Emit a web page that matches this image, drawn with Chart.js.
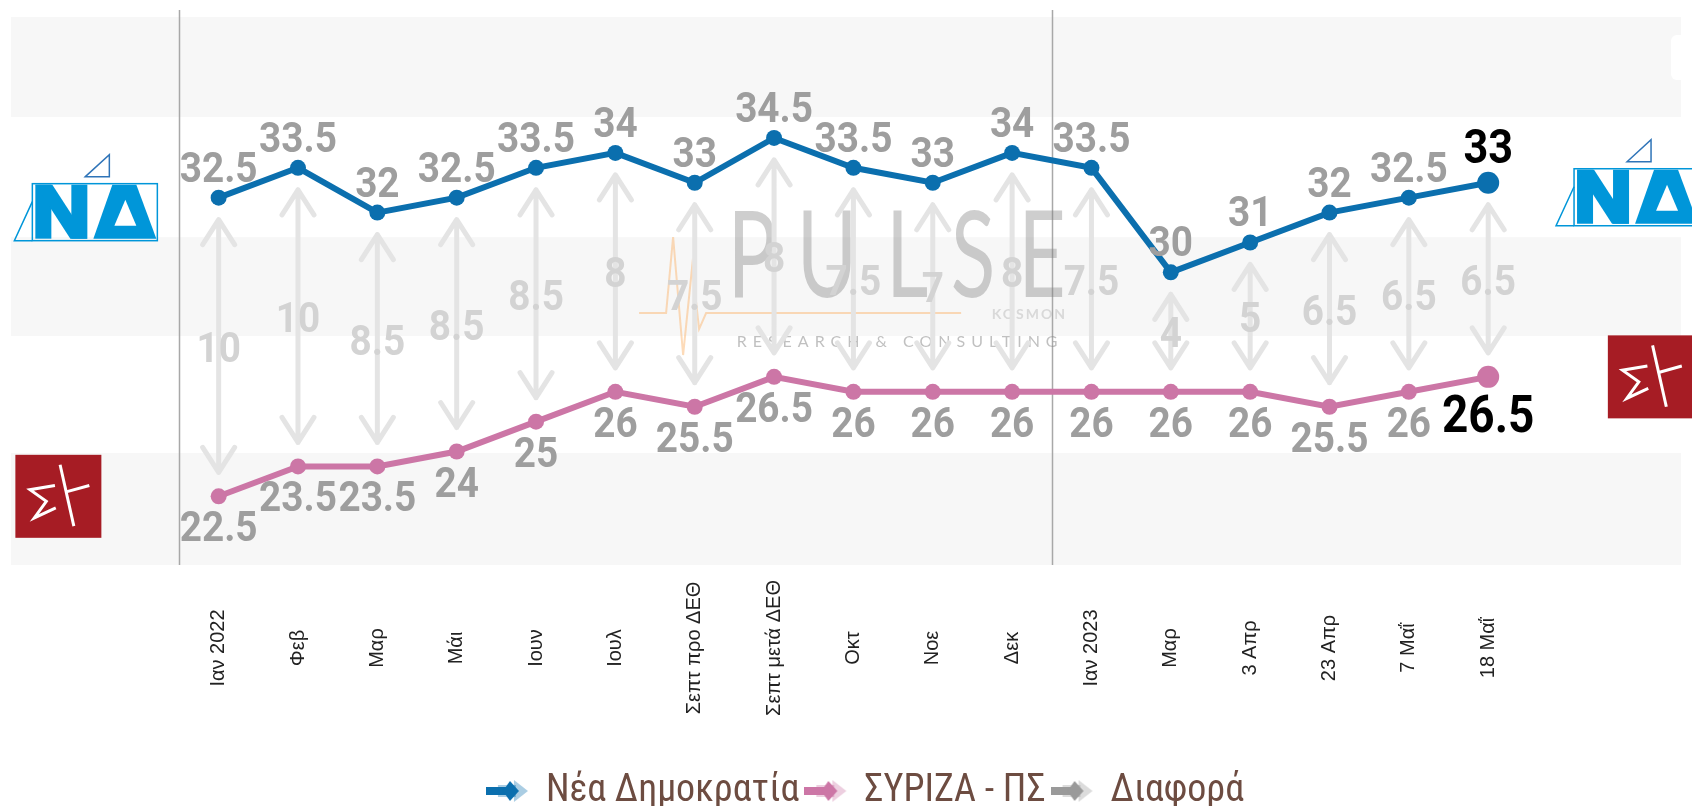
<!DOCTYPE html>
<html>
<head>
<meta charset="utf-8">
<script src="https://cdn.jsdelivr.net/npm/chart.js@4/dist/chart.umd.min.js"></script>
<style>
    * {
        margin: 0;
        padding: 0;
    }

    body {
        background: #ffffff;
        overflow: hidden;
    }

    .chart-box {
        width: 1692px;
        height: 806px;
    }
</style>
</head>
<body>
<div class="chart-box"><canvas id="pollChart"></canvas></div>
<script>
//   D A T A   //
const periods = ["Ιαν 2022", "Φεβ", "Μαρ", "Μάι", "Ιουν", "Ιουλ", "Σεπτ προ ΔΕΘ", "Σεπτ μετά ΔΕΘ",
    "Οκτ", "Νοε", "Δεκ", "Ιαν 2023", "Μαρ", "3 Απρ", "23 Απρ", "7 Μαΐ", "18 Μαΐ"];
const ndValues = [32.5, 33.5, 32, 32.5, 33.5, 34, 33, 34.5, 33.5, 33, 34, 33.5, 30, 31, 32, 32.5, 33];
const syrizaValues = [22.5, 23.5, 23.5, 24, 25, 26, 25.5, 26.5, 26, 26, 26, 26, 26, 26, 25.5, 26, 26.5];
const gapValues = [10, 10, 8.5, 8.5, 8.5, 8, 7.5, 8, 7.5, 7, 8, 7.5, 4, 5, 6.5, 6.5, 6.5];
const seriesNames = ["Νέα Δημοκρατία", "ΣΥΡΙΖΑ - ΠΣ", "Διαφορά"];
// edges of the grey / white background stripes, on the value axis
const bandEdges = [20.2, 23.95, 27.87, 31.18, 35.2, 38.55];

const ND_BLUE = "#0b6fae";
const SYRIZA_PINK = "#cc76a6";
const GAP_GRAY = "#9a9a9a";

// axis window (the plot area is wider than the series to leave room for the logos)
const X_MIN = -2.617;
const X_MAX = 18.43;
const Y_MIN = bandEdges[0];
const Y_MAX = bandEdges[bandEdges.length - 1];

const LABEL_FONT = "Roboto, 'Liberation Sans', sans-serif";
const SQUEEZE = 0.9;   // labels are drawn a bit narrower, like a condensed face
const PLOT_BOTTOM = 565;
const LEGEND_PAD = 10;


// pick a narrow face for the legend if there is one
function fontAvailable(name) {
    const g = document.createElement("canvas").getContext("2d");
    const sample = "Νέα Δημοκρατία 0123";
    g.font = "40px monospace";
    const a = g.measureText(sample).width;
    g.font = `40px "${name}", monospace`;
    return g.measureText(sample).width !== a;
}
const narrowFace = ["Roboto Condensed", "Liberation Sans Narrow"].find(fontAvailable);
const legendFont = narrowFace ? {family: `"${narrowFace}"`, size: 38} : {family: LABEL_FONT, size: 35};


//   L E G E N D   I C O N S   //
function legendIcon(color) {
    const c = document.createElement("canvas");
    c.width = 46;
    c.height = 26;
    const g = c.getContext("2d");
    g.fillStyle = color;
    g.globalAlpha = 0.35;
    g.fillRect(12, 7, 18, 12);
    g.beginPath();
    g.moveTo(28, 2);
    g.lineTo(42, 13);
    g.lineTo(28, 24);
    g.closePath();
    g.fill();
    g.globalAlpha = 1;
    g.fillRect(0, 9, 24, 8);
    g.beginPath();
    g.moveTo(24, 3);
    g.lineTo(33, 13);
    g.lineTo(24, 23);
    g.lineTo(17, 13);
    g.closePath();
    g.fill();
    return c;
}


//   L O G O S   //
function drawNdLogo(ctx, cx, cy) {
    ctx.save();
    ctx.translate(cx, cy);
    ctx.fillStyle = "#0096d9";
    ctx.strokeStyle = "#0096d9";
    ctx.lineWidth = 1.5;

    // N
    ctx.fillRect(-50, -13, 16, 54);
    ctx.fillRect(-14, -13, 16, 54);
    ctx.beginPath();
    ctx.moveTo(-50, -13);
    ctx.lineTo(-33, -13);
    ctx.lineTo(2, 41);
    ctx.lineTo(-15, 41);
    ctx.closePath();
    ctx.fill();

    // Δ
    ctx.beginPath();
    ctx.moveTo(8, 41);
    ctx.lineTo(27, -13);
    ctx.lineTo(51, -13);
    ctx.lineTo(71, 41);
    ctx.closePath();
    ctx.fill();
    ctx.fillStyle = "#ffffff";
    ctx.beginPath();
    ctx.moveTo(29, 28);
    ctx.lineTo(40, 2);
    ctx.lineTo(51, 28);
    ctx.closePath();
    ctx.fill();

    // outlines
    ctx.strokeRect(-53, -14, 125, 57);
    ctx.beginPath();
    ctx.moveTo(-53, 4);
    ctx.lineTo(-71, 43);
    ctx.lineTo(-53, 43);
    ctx.stroke();
    ctx.strokeStyle = "#2f74b8";
    ctx.beginPath();
    ctx.moveTo(0, -21);
    ctx.lineTo(24, -43);
    ctx.lineTo(24, -21);
    ctx.closePath();
    ctx.stroke();
    ctx.restore();
}

function drawSyrizaLogo(ctx, cx, cy) {
    const w = 86, h = 83;
    ctx.save();
    ctx.translate(cx - w / 2, cy - h / 2);
    ctx.fillStyle = "#a61c24";
    ctx.fillRect(0, 0, w, h);
    ctx.strokeStyle = "#ffffff";
    ctx.lineWidth = 3;
    ctx.lineJoin = "miter";
    ctx.beginPath();
    ctx.moveTo(0.46 * w, 0.37 * h);
    ctx.lineTo(0.17 * w, 0.42 * h);
    ctx.lineTo(0.36 * w, 0.56 * h);
    ctx.lineTo(0.22 * w, 0.76 * h);
    ctx.lineTo(0.47 * w, 0.64 * h);
    ctx.stroke();
    ctx.beginPath();
    ctx.moveTo(0.52 * w, 0.12 * h);
    ctx.lineTo(0.68 * w, 0.86 * h);
    ctx.stroke();
    ctx.beginPath();
    ctx.moveTo(0.58 * w, 0.45 * h);
    ctx.lineTo(0.86 * w, 0.37 * h);
    ctx.stroke();
    ctx.restore();
}

// text squeezed horizontally around its centre
function squeezedText(ctx, text, x, y, font) {
    ctx.save();
    ctx.font = font;
    ctx.translate(x, y);
    ctx.scale(SQUEEZE, 1);
    ctx.fillText(text, 0, 0);
    ctx.restore();
}


//   B A C K G R O U N D   P L U G I N   //
const backdrop = {
    id: "backdrop",
    beforeDatasetsDraw(chart) {
        const {ctx, chartArea: area, scales: {x, y}} = chart;
        ctx.save();

        // striped bands, grey at the bottom and alternating upwards
        for (let k = 0; k < bandEdges.length - 1; k++) {
            const yBottom = y.getPixelForValue(bandEdges[k]);
            const yTop = y.getPixelForValue(bandEdges[k + 1]);
            ctx.fillStyle = k % 2 === 0 ? "#f7f7f7" : "#ffffff";
            ctx.fillRect(area.left, yTop, area.right - area.left, yBottom - yTop);
        }

        // small white box in the top right corner
        ctx.fillStyle = "#ffffff";
        ctx.beginPath();
        ctx.roundRect(area.right - 10, area.top + 18, 24, 45, 6);
        ctx.fill();

        // year separators
        ctx.strokeStyle = "#a8a8a8";
        ctx.lineWidth = 1.5;
        periods.forEach((p, i) => {
            if (p.startsWith("Ιαν")) {
                const px = Math.round(x.getPixelForValue(i - 0.5)) + 0.5;
                ctx.beginPath();
                ctx.moveTo(px, area.top - 7);
                ctx.lineTo(px, area.bottom);
                ctx.stroke();
            }
        });

        // watermark
        const wx = area.left + 0.5306 * (area.right - area.left);
        const wy = area.top + 0.511 * (area.bottom - area.top);
        ctx.strokeStyle = "rgba(250, 175, 100, 0.45)";
        ctx.lineWidth = 2;
        ctx.beginPath();
        ctx.moveTo(wx - 258, wy + 16);
        ctx.lineTo(wx - 231, wy + 16);
        ctx.lineTo(wx - 224, wy - 60);
        ctx.lineTo(wx - 214, wy + 58);
        ctx.lineTo(wx - 205, wy - 30);
        ctx.lineTo(wx - 198, wy + 32);
        ctx.lineTo(wx - 191, wy + 16);
        ctx.lineTo(wx + 64, wy + 16);
        ctx.stroke();

        ctx.fillStyle = "rgba(125, 125, 125, 0.38)";
        ctx.textAlign = "center";
        ctx.textBaseline = "alphabetic";
        const letterOffsets = [-145, -70, 10, 76, 145];
        "PULSE".split("").forEach((ch, i) => {
            ctx.save();
            ctx.translate(wx + letterOffsets[i], wy);
            ctx.scale(0.68, 1);
            ctx.font = "400 121px Lato, 'Open Sans', sans-serif";
            ctx.fillText(ch, 0, 0);
            ctx.restore();
        });
        ctx.font = "16px Lato, 'Open Sans', sans-serif";
        ctx.letterSpacing = "6px";
        ctx.fillStyle = "rgba(140, 140, 140, 0.55)";
        ctx.fillText("RESEARCH & CONSULTING", wx + 3, wy + 50);
        ctx.font = "bold 14px Lato, 'Open Sans', sans-serif";
        ctx.letterSpacing = "2px";
        ctx.textAlign = "right";
        ctx.fillStyle = "rgba(160, 160, 160, 0.35)";
        ctx.fillText("KOSMON", wx + 170, wy + 22);
        ctx.letterSpacing = "0px";

        // difference arrows from the floating bars
        const gapMeta = chart.getDatasetMeta(2);
        ctx.strokeStyle = "#e4e4e4";
        ctx.lineWidth = 5;
        ctx.lineCap = "round";
        ctx.lineJoin = "round";
        gapMeta.data.forEach(bar => {
            const top = Math.min(bar.y, bar.base) + 22;
            const bottom = Math.max(bar.y, bar.base) - 24;
            ctx.beginPath();
            ctx.moveTo(bar.x, top);
            ctx.lineTo(bar.x, bottom);
            ctx.moveTo(bar.x - 16, top + 25);
            ctx.lineTo(bar.x, top);
            ctx.lineTo(bar.x + 16, top + 25);
            ctx.moveTo(bar.x - 16, bottom - 25);
            ctx.lineTo(bar.x, bottom);
            ctx.lineTo(bar.x + 16, bottom - 25);
            ctx.stroke();
        });
        ctx.fillStyle = "#d3d3d3";
        ctx.textAlign = "center";
        gapMeta.data.forEach((bar, i) => {
            const mid = (bar.y + bar.base) / 2;
            squeezedText(ctx, String(gapValues[i]), bar.x, mid + 15, "bold 43px " + LABEL_FONT);
        });

        ctx.restore();
    }
};


//   L A B E L S   P L U G I N   //
const annotations = {
    id: "annotations",
    afterDatasetsDraw(chart) {
        const {ctx, chartArea: area, scales: {x, y}} = chart;
        ctx.save();
        ctx.textAlign = "center";
        ctx.textBaseline = "alphabetic";

        const last = ndValues.length - 1;
        chart.getDatasetMeta(0).data.forEach((pt, i) => {
            const isLast = i === last;
            ctx.fillStyle = isLast ? "#000000" : "#9e9e9e";
            squeezedText(ctx, String(ndValues[i]), pt.x, pt.y - (isLast ? 20 : 16),
                (isLast ? "bold 48px " : "bold 43px ") + LABEL_FONT);
        });
        chart.getDatasetMeta(1).data.forEach((pt, i) => {
            const isLast = i === last;
            ctx.fillStyle = isLast ? "#000000" : "#9e9e9e";
            squeezedText(ctx, String(syrizaValues[i]), pt.x, pt.y + (isLast ? 55 : 45),
                (isLast ? "bold 51px " : "bold 43px ") + LABEL_FONT);
        });

        // category labels, rotated and centred
        ctx.fillStyle = "#222222";
        ctx.font = "20px 'Liberation Sans', Arial, sans-serif";
        ctx.textBaseline = "middle";
        periods.forEach((p, i) => {
            ctx.save();
            ctx.translate(x.getPixelForValue(i), area.bottom + 83);
            ctx.rotate(-Math.PI / 2);
            ctx.fillText(p, 0, 0);
            ctx.restore();
        });

        // party logos next to the first and last values
        drawNdLogo(ctx, x.getPixelForValue(-1.68), y.getPixelForValue(ndValues[0]));
        drawNdLogo(ctx, x.getPixelForValue(17.75), y.getPixelForValue(ndValues[last]));
        drawSyrizaLogo(ctx, x.getPixelForValue(-2.02), y.getPixelForValue(syrizaValues[0]));
        drawSyrizaLogo(ctx, x.getPixelForValue(18.05), y.getPixelForValue(syrizaValues[last]));

        ctx.restore();
    }
};

// nudges the legend row to where the original sits
const legendNudge = {
    id: "legendNudge",
    afterLayout(chart) {
        const lg = chart.legend;
        const dy = legendFont.size / 2 - 5;
        lg.top += dy;
        lg.bottom += dy;
        lg.left += 16;
        lg.right += 16;
    }
};


//   C H A R T   //
const lastIndex = ndValues.length - 1;
const bigLastPoint = ctx => ctx.dataIndex === lastIndex ? 11 : 8;
// legend row takes font size + padding + 10px, the category strip gets the rest
const categoryStrip = 806 - PLOT_BOTTOM - (legendFont.size + LEGEND_PAD + 10);

new Chart(document.getElementById("pollChart"), {
    type: "line",
    data: {
        datasets: [{
            label: seriesNames[0],
            data: ndValues.map((v, i) => ({x: i, y: v})),
            borderColor: ND_BLUE,
            backgroundColor: ND_BLUE,
            borderWidth: 6,
            pointRadius: bigLastPoint,
            pointHoverRadius: bigLastPoint,
            pointBorderWidth: 0,
            tension: 0
        }, {
            label: seriesNames[1],
            data: syrizaValues.map((v, i) => ({x: i, y: v})),
            borderColor: SYRIZA_PINK,
            backgroundColor: SYRIZA_PINK,
            borderWidth: 6,
            pointRadius: bigLastPoint,
            pointHoverRadius: bigLastPoint,
            pointBorderWidth: 0,
            tension: 0
        }, {
            label: seriesNames[2],
            type: "bar",
            data: syrizaValues.map((v, i) => ({x: i, y: [v, ndValues[i]]})),
            backgroundColor: "rgba(0, 0, 0, 0)",
            borderColor: GAP_GRAY,
            borderWidth: 0,
            barThickness: 10
        }]
    },
    options: {
        responsive: true,
        maintainAspectRatio: false,
        animation: false,
        events: [],
        layout: {
            padding: {left: 11, top: 17, right: 0, bottom: 0}
        },
        scales: {
            x: {
                type: "linear",
                min: X_MIN,
                max: X_MAX,
                offset: false,
                ticks: {display: false},
                grid: {display: false},
                border: {display: false},
                afterFit: scale => { scale.height = categoryStrip; }
            },
            y: {
                type: "linear",
                min: Y_MIN,
                max: Y_MAX,
                display: false
            }
        },
        plugins: {
            tooltip: {enabled: false},
            legend: {
                position: "bottom",
                labels: {
                    usePointStyle: true,
                    pointStyleWidth: 36,
                    padding: LEGEND_PAD,
                    color: "#6d4c41",
                    font: legendFont,
                    generateLabels: chart => chart.data.datasets.map((ds, i) => ({
                        text: ds.label,
                        fillStyle: ds.borderColor,
                        strokeStyle: ds.borderColor,
                        lineWidth: 0,
                        pointStyle: legendIcon(ds.borderColor),
                        fontColor: "#6d4c41",
                        hidden: false,
                        datasetIndex: i
                    }))
                }
            }
        }
    },
    plugins: [backdrop, annotations, legendNudge]
});
</script>
</body>
</html>
